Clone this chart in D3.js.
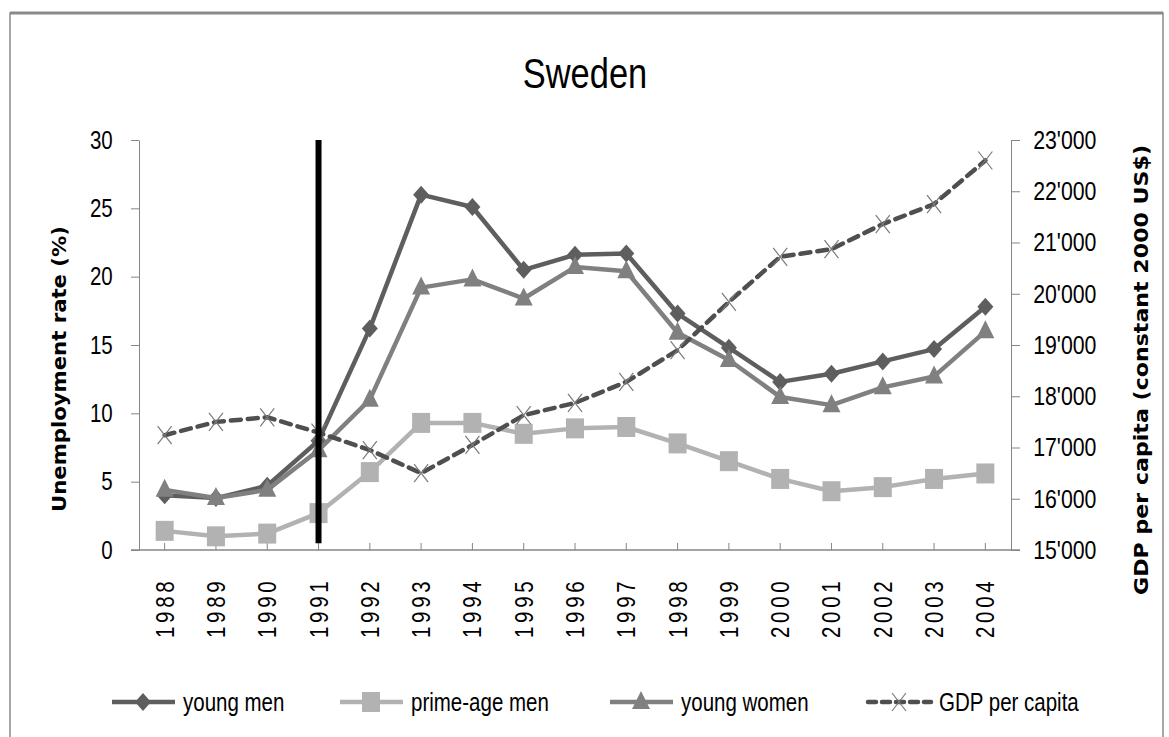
<!DOCTYPE html>
<html>
	<head>
		<title>Sweden</title>
		<script src="https://d3js.org/d3.v7.min.js"></script>
		<style>
			body { margin: 0; background: #fff; }
			text { font-family: "Liberation Sans", Arial, sans-serif; }
		</style>
	</head>
	<body>
		<script>

			// data
			var years = ["1988","1989","1990","1991","1992","1993","1994","1995","1996","1997","1998","1999","2000","2001","2002","2003","2004"];
			var young_men = [4.0, 3.8, 4.7, 8.0, 16.2, 26.0, 25.1, 20.5, 21.6, 21.7, 17.3, 14.8, 12.3, 12.9, 13.8, 14.7, 17.8];
			var prime_age_men = [1.4, 1.0, 1.2, 2.7, 5.7, 9.3, 9.3, 8.5, 8.9, 9.0, 7.8, 6.5, 5.2, 4.3, 4.6, 5.2, 5.6];
			var young_women = [4.4, 3.8, 4.4, 7.3, 11.0, 19.2, 19.8, 18.4, 20.7, 20.4, 15.9, 13.9, 11.2, 10.6, 11.9, 12.7, 16.0];
			var gdp = [17240, 17500, 17590, 17290, 16950, 16500, 17050, 17630, 17870, 18280, 18900, 19840, 20720, 20870, 21360, 21750, 22600];
			var left_ticks = [0, 5, 10, 15, 20, 25, 30];
			var right_ticks = [15000, 16000, 17000, 18000, 19000, 20000, 21000, 22000, 23000];
			var break_year = "1991";

			var width = 1169;
			var height = 737;
			var axis_color = "#868686";
			var sx = 0.82; // horizontal squeeze, the original font is narrow

			var svg = d3.select("body").append("svg")
				.attr("width", width)
				.attr("height", height);

			// outer frame
			svg.append("rect")
				.attr("x", 10).attr("y", 13)
				.attr("width", 1153).attr("height", 740)
				.attr("fill", "none")
				.attr("stroke", "#8a8a8a")
				.attr("stroke-width", 1.5);
			svg.append("line")
				.attr("x1", 10).attr("x2", 1163).attr("y1", 13).attr("y2", 13)
				.attr("stroke", "#8a8a8a").attr("stroke-width", 3);

			// title
			svg.append("text")
				.attr("transform", "translate(585,88) scale(" + sx + ",1)")
				.attr("text-anchor", "middle")
				.style("font-size", "42px")
				.text("Sweden");

			// scales
			var x = d3.scaleBand().domain(years).range([139, 1011]);
			var y_left = d3.scaleLinear().domain([0, 30]).range([550, 140]);
			var y_right = d3.scaleLinear().domain([15000, 23000]).range([550, 140]);
			function cx(d) { return x(d) + x.bandwidth() / 2; }

			// left axis
			var left_axis = svg.append("g")
				.attr("transform", "translate(139,0)")
				.call(d3.axisLeft(y_left).tickValues(left_ticks).tickSize(8).tickSizeOuter(0).tickPadding(24));
			left_axis.selectAll("path, line").attr("stroke", axis_color);
			left_axis.selectAll("text")
				.style("font-size", "25px")
				.attr("fill", "#000")
				.attr("font-family", null)
				.attr("transform", "scale(" + sx + ",1)");

			// right axis
			var fmt = function (d) { return d3.format(",")(d).replace(",", "'"); };
			var right_axis = svg.append("g")
				.attr("transform", "translate(1011,0)")
				.call(d3.axisRight(y_right).tickValues(right_ticks).tickSize(9).tickSizeOuter(0).tickPadding(18).tickFormat(fmt));
			right_axis.selectAll("path, line").attr("stroke", axis_color);
			right_axis.selectAll("text")
				.style("font-size", "26px")
				.attr("fill", "#000")
				.attr("font-family", null)
				.attr("transform", "scale(" + sx + ",1)");

			// x axis
			var x_axis = svg.append("g")
				.attr("transform", "translate(0,550)")
				.call(d3.axisBottom(x).tickSize(-7).tickSizeOuter(0));
			x_axis.select(".domain").remove();
			x_axis.selectAll("line").attr("stroke", axis_color);
			x_axis.selectAll("text").remove();
			svg.append("line")
				.attr("x1", 131).attr("x2", 1020).attr("y1", 550).attr("y2", 550)
				.attr("stroke", axis_color).attr("stroke-width", 1.5);

			svg.append("g").selectAll("text")
				.data(years)
				.enter()
				.append("text")
				.attr("transform", function (d) { return "translate(" + cx(d) + ",638) rotate(-90) scale(" + sx + ",1)"; })
				.attr("text-anchor", "start")
				.attr("dy", "0.36em")
				.style("font-size", "25px")
				.style("letter-spacing", "4.5px")
				.text(function (d) { return d; });

			// axis titles
			svg.append("text")
				.attr("transform", "translate(59,369) rotate(-90)")
				.attr("text-anchor", "middle")
				.attr("dy", "0.35em")
				.attr("textLength", 286)
				.attr("lengthAdjust", "spacingAndGlyphs")
				.style("font-family", "'DejaVu Sans', sans-serif")
				.style("font-weight", "bold")
				.style("font-size", "20px")
				.text("Unemployment rate (%)");
			svg.append("text")
				.attr("transform", "translate(1141,370) rotate(-90)")
				.attr("text-anchor", "middle")
				.attr("dy", "0.35em")
				.attr("textLength", 450)
				.attr("lengthAdjust", "spacingAndGlyphs")
				.style("font-family", "'DejaVu Sans', sans-serif")
				.style("font-weight", "bold")
				.style("font-size", "20px")
				.text("GDP per capita (constant 2000 US$)");

			// marker shapes
			function diamond(g, px, py, col) {
				g.append("path")
					.attr("d", "M" + px + "," + (py - 9) + "L" + (px + 8) + "," + py + "L" + px + "," + (py + 9) + "L" + (px - 8) + "," + py + "Z")
					.attr("fill", col);
			}
			function square(g, px, py, col) {
				g.append("rect")
					.attr("x", px - 9).attr("y", py - 10)
					.attr("width", 18).attr("height", 20)
					.attr("fill", col);
			}
			function triangle(g, px, py, col) {
				g.append("path")
					.attr("d", "M" + px + "," + (py - 11) + "L" + (px + 9) + "," + (py + 7) + "L" + (px - 9) + "," + (py + 7) + "Z")
					.attr("fill", col);
			}
			function cross(g, px, py, col) {
				g.append("path")
					.attr("d", "M" + (px - 7) + "," + (py - 9) + "L" + (px + 7) + "," + (py + 9) + "M" + (px + 7) + "," + (py - 9) + "L" + (px - 7) + "," + (py + 9))
					.attr("stroke", col).attr("stroke-width", 1.2).attr("fill", "none");
			}

			var series = [
				{ name: "young men", values: young_men, scale: y_left, color: "#5e5e5e", marker: diamond, dash: null },
				{ name: "prime-age men", values: prime_age_men, scale: y_left, color: "#b2b2b2", marker: square, dash: null },
				{ name: "young women", values: young_women, scale: y_left, color: "#808080", marker: triangle, dash: null },
				{ name: "GDP per capita", values: gdp, scale: y_right, color: "#4f4f4f", marker: cross, dash: "10,7" }
			];

			series.forEach(function (s) {
				var line = d3.line()
					.x(function (d, i) { return cx(years[i]); })
					.y(function (d) { return s.scale(d); });
				var g = svg.append("g");
				var p = g.append("path")
					.datum(s.values)
					.attr("d", line)
					.attr("fill", "none")
					.attr("stroke", s.color)
					.attr("stroke-width", 4.5)
					.attr("stroke-linejoin", "round");
				if (s.dash) {
					p.attr("stroke-dasharray", s.dash).attr("stroke-linecap", "round");
				}
				var mcol = s.marker === cross ? "#7a7a7a" : s.color;
				s.values.forEach(function (d, i) {
					s.marker(g, cx(years[i]), s.scale(d), mcol);
				});
			});

			// 1991 marker line
			svg.append("line")
				.attr("x1", cx(break_year)).attr("x2", cx(break_year))
				.attr("y1", y_left(30)).attr("y2", y_left(0.5))
				.attr("stroke", "#000")
				.attr("stroke-width", 6);

			// legend
			var legend_x = [112, 340, 610, 868];
			var legend = svg.append("g");
			series.forEach(function (s, i) {
				var lx = legend_x[i];
				var ly = 702;
				var ln = legend.append("line")
					.attr("x1", lx).attr("x2", lx + 63)
					.attr("y1", ly).attr("y2", ly)
					.attr("stroke", s.color)
					.attr("stroke-width", 4.5);
				if (s.dash) {
					ln.attr("stroke-dasharray", "8,6").attr("stroke-linecap", "round");
				}
				var mcol = s.marker === cross ? "#7a7a7a" : s.color;
				s.marker(legend, lx + 31, ly, mcol);
				legend.append("text")
					.attr("transform", "translate(" + (lx + 71) + "," + ly + ") scale(" + sx + ",1)")
					.attr("dy", "0.35em")
					.style("font-size", "25px")
					.text(s.name);
			});

		</script>
	</body>
</html>
